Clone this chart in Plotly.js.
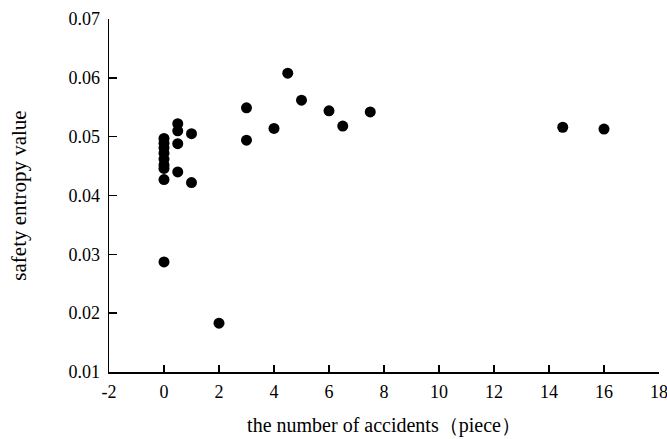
<!DOCTYPE html>
<html>
<head>
<meta charset="utf-8">
<script src="https://cdn.plot.ly/plotly-3.0.1.min.js"></script>
<style>html,body{margin:0;padding:0;background:#fff;}#chart{width:667px;height:439px;}</style>
</head>
<body>
<div id="chart"></div>
<script>
var accidents = [0, 0, 0, 0, 0, 0, 0, 0, 0,
                 0.5, 0.5, 0.5, 0.5,
                 1, 1, 2,
                 3, 3, 4, 4.5, 5, 6, 6.5, 7.5, 14.5, 16];
var entropy = [0.0497, 0.0489, 0.0481, 0.0472, 0.0462, 0.0452, 0.0446, 0.0427, 0.0287,
               0.0522, 0.0510, 0.0488, 0.0440,
               0.0505, 0.0422, 0.0183,
               0.0549, 0.0494, 0.0514, 0.0608, 0.0562, 0.0544, 0.0518, 0.0542, 0.0516, 0.0513];
var xTickVals = [-2, 0, 2, 4, 6, 8, 10, 12, 14, 16, 18];
var xTickText = ["-2", "0", "2", "4", "6", "8", "10", "12", "14", "16", "18"];
var xTitle = "the number of accidents\uff08piece\uff09";
var yTitle = "safety entropy value";

var fontFam = "Liberation Serif, Times New Roman, serif";
Plotly.newPlot('chart', [{
  x: accidents, y: entropy, type: 'scatter', mode: 'markers',
  marker: {color: '#000', size: 11}
}], {
  width: 667, height: 439,
  margin: {l: 109, r: 8, t: 19, b: 67},
  paper_bgcolor: '#fff', plot_bgcolor: '#fff',
  showlegend: false,
  font: {family: fontFam, size: 18, color: '#000'},
  xaxis: {
    range: [-2, 18], tickmode: 'array', tickvals: xTickVals, ticktext: xTickText,
    showgrid: false, zeroline: false,
    showline: true, linecolor: '#000', linewidth: 1.5,
    ticks: 'inside', ticklen: 7, tickwidth: 1.5, tickcolor: '#000',
    tickfont: {family: fontFam, size: 18},
    ticklabelstandoff: 3, ticklabeloverflow: 'allow',
    title: {text: xTitle, font: {family: fontFam, size: 20}, standoff: 17},
    automargin: false
  },
  yaxis: {
    range: [0.01, 0.07], dtick: 0.01, tick0: 0.01, tickformat: '.2f', showgrid: false, zeroline: false,
    showline: true, linecolor: '#000', linewidth: 1.5,
    ticks: 'inside', ticklen: 8, tickwidth: 1.5, tickcolor: '#000',
    tickfont: {family: fontFam, size: 18},
    ticklabelstandoff: 4, ticklabeloverflow: 'allow',
    title: {text: yTitle, font: {family: fontFam, size: 21}, standoff: 36},
    automargin: false
  }
}, {displayModeBar: false, staticPlot: true});
</script>
</body>
</html>
